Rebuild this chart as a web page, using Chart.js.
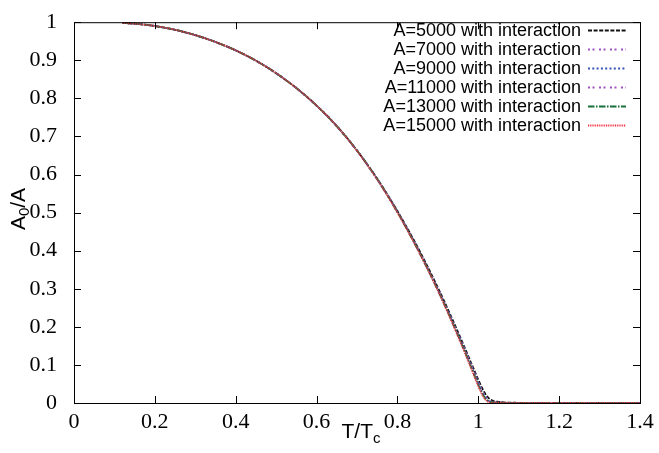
<!DOCTYPE html>
<html>
<head>
<meta charset="utf-8">
<script src="https://cdn.jsdelivr.net/npm/chart.js@4/dist/chart.umd.min.js"></script>
<style>
  html, body { margin: 0; padding: 0; background: #fff; }
  #wrap { width: 659px; height: 453px; }
</style>
</head>
<body>
<div id="wrap"><canvas id="gapChart" width="659" height="453"></canvas></div>
<script>
'use strict';

// reduced temperature T/Tc
const temps = [0.12, 0.15, 0.2, 0.25, 0.3, 0.35, 0.4, 0.45, 0.5, 0.55, 0.6, 0.65, 0.7, 0.75, 0.8,
  0.85, 0.9, 0.93, 0.96, 0.98, 1.0, 1.01, 1.02, 1.03, 1.05, 1.1, 1.2, 1.3, 1.4];

// A0/A for each system size
const ratio5000  = [0.998, 0.996, 0.990, 0.980, 0.966, 0.948, 0.926, 0.899, 0.866, 0.827, 0.781, 0.727, 0.663, 0.589, 0.504,
  0.409, 0.303, 0.234, 0.161, 0.111, 0.061, 0.038, 0.020, 0.009, 0.003, 0.0005, 0, 0, 0];
const ratio7000  = [0.998, 0.996, 0.990, 0.980, 0.966, 0.948, 0.926, 0.899, 0.866, 0.827, 0.781, 0.727, 0.663, 0.588, 0.503,
  0.407, 0.300, 0.231, 0.157, 0.107, 0.056, 0.032, 0.014, 0.005, 0.001, 0, 0, 0, 0];
const ratio9000  = [0.998, 0.996, 0.990, 0.980, 0.966, 0.948, 0.926, 0.899, 0.866, 0.827, 0.781, 0.727, 0.663, 0.588, 0.502,
  0.405, 0.298, 0.228, 0.154, 0.103, 0.051, 0.028, 0.011, 0.003, 0.001, 0, 0, 0, 0];
const ratio11000 = [0.998, 0.996, 0.990, 0.980, 0.966, 0.948, 0.926, 0.899, 0.866, 0.827, 0.781, 0.727, 0.663, 0.588, 0.502,
  0.404, 0.297, 0.227, 0.153, 0.102, 0.050, 0.027, 0.010, 0.003, 0.001, 0, 0, 0, 0];
const ratio13000 = [0.998, 0.996, 0.990, 0.980, 0.966, 0.948, 0.926, 0.899, 0.866, 0.827, 0.781, 0.727, 0.663, 0.588, 0.501,
  0.404, 0.296, 0.226, 0.152, 0.100, 0.048, 0.025, 0.009, 0.002, 0.001, 0, 0, 0, 0];
const ratio15000 = [0.998, 0.996, 0.990, 0.980, 0.966, 0.948, 0.926, 0.899, 0.866, 0.827, 0.781, 0.727, 0.662, 0.587, 0.500,
  0.403, 0.295, 0.224, 0.149, 0.097, 0.044, 0.021, 0.006, 0.001, 0.001, 0, 0, 0, 0];

const seriesLabels = ['A=5000 with interaction', 'A=7000 with interaction', 'A=9000 with interaction',
  'A=11000 with interaction', 'A=13000 with interaction', 'A=15000 with interaction'];
const seriesValues = [ratio5000, ratio7000, ratio9000, ratio11000, ratio13000, ratio15000];

const xTicks = [0, 0.2, 0.4, 0.6, 0.8, 1, 1.2, 1.4];
const yTicks = [0, 0.1, 0.2, 0.3, 0.4, 0.5, 0.6, 0.7, 0.8, 0.9, 1];

const lineColors = ['#111111', '#a052c4', '#3552b4', '#a052c4', '#17703a', '#ee3040'];
const lineDashes = [[4, 1.6], [2, 2.5, 2, 4.5], [2, 2.3], [2, 2.5, 2, 4.5], [6.5, 1.5, 1.5, 1.5], [1, 0.8]];

const sansFont  = "'Liberation Sans', Arial, sans-serif";
const serifFont = "'Liberation Serif', 'Times New Roman', serif";

// frame, inward ticks on all four sides, axis titles and key
const framePlugin = {
  id: 'frame',
  afterDraw(chart) {
    const { ctx, chartArea: a, scales } = chart;
    const tick = 7;
    ctx.save();
    ctx.strokeStyle = '#000';
    ctx.lineWidth = 1;
    ctx.strokeRect(a.left + 0.5, a.top + 0.5, a.right - a.left, a.bottom - a.top);
    ctx.beginPath();
    xTicks.forEach(v => {
      const px = Math.round(scales.x.getPixelForValue(v)) + 0.5;
      ctx.moveTo(px, a.bottom); ctx.lineTo(px, a.bottom - tick);
      ctx.moveTo(px, a.top); ctx.lineTo(px, a.top + tick);
    });
    yTicks.forEach(v => {
      const py = Math.round(scales.y.getPixelForValue(v)) + 0.5;
      ctx.moveTo(a.left, py); ctx.lineTo(a.left + tick, py);
      ctx.moveTo(a.right, py); ctx.lineTo(a.right - tick, py);
    });
    ctx.stroke();

    // axis titles with subscripts
    ctx.fillStyle = '#000';
    ctx.textBaseline = 'alphabetic';
    const big = '21px ' + sansFont, small = '15px ' + sansFont;
    const drawSub = (parts, x, y, drop) => {
      let w = 0;
      parts.forEach(p => { ctx.font = p[1] ? small : big; w += ctx.measureText(p[0]).width; });
      let cx = x - w / 2;
      parts.forEach(p => {
        ctx.font = p[1] ? small : big;
        ctx.textAlign = 'left';
        ctx.fillText(p[0], cx, p[1] ? y + drop : y);
        cx += ctx.measureText(p[0]).width;
      });
    };
    drawSub([['T/T', false], ['c', true]], 361, 438, 5);
    ctx.save();
    ctx.translate(25, 209);
    ctx.rotate(-Math.PI / 2);
    drawSub([['A', false], ['0', true], ['/A', false]], 0, 0, 4);
    ctx.restore();

    // key
    ctx.font = '18px ' + sansFont;
    ctx.textAlign = 'right';
    ctx.textBaseline = 'middle';
    chart.data.datasets.forEach((ds, i) => {
      const y = 30 + i * 19;
      ctx.fillStyle = '#000';
      ctx.fillText(ds.label, 581, y + 1);
      ctx.beginPath();
      ctx.strokeStyle = ds.borderColor;
      ctx.lineWidth = 2;
      ctx.setLineDash(ds.borderDash);
      ctx.moveTo(588, y + 0.5);
      ctx.lineTo(626, y + 0.5);
      ctx.stroke();
      ctx.setLineDash([]);
    });
    ctx.restore();
  }
};

new Chart(document.getElementById('gapChart'), {
  type: 'line',
  data: {
    datasets: seriesLabels.map((label, i) => ({
      label: label,
      data: temps.map((t, k) => ({ x: t, y: seriesValues[i][k] })),
      borderColor: lineColors[i],
      borderDash: lineDashes[i],
      borderWidth: 1.8,
      pointRadius: 0,
      fill: false,
      cubicInterpolationMode: 'monotone',
      order: seriesLabels.length - i
    }))
  },
  options: {
    responsive: false,
    animation: false,
    layout: { padding: { top: 14, right: 19, left: 0, bottom: 0 } },
    plugins: { legend: { display: false }, tooltip: { enabled: false } },
    scales: {
      x: {
        type: 'linear', min: 0, max: 1.4,
        afterBuildTicks: s => { s.ticks = xTicks.map(v => ({ value: v })); },
        afterFit: s => { s.height = 50; },
        grid: { display: false },
        border: { display: false },
        ticks: {
          color: '#000', padding: -2, maxRotation: 0,
          font: { family: serifFont, size: 22 },
          callback: v => String(Number(v.toFixed(1)))
        }
      },
      y: {
        type: 'linear', min: 0, max: 1,
        afterBuildTicks: s => { s.ticks = yTicks.map(v => ({ value: v })); },
        afterFit: s => { s.width = 74; },
        grid: { display: false },
        border: { display: false },
        ticks: {
          color: '#000', padding: 9,
          font: { family: serifFont, size: 22 },
          callback: v => String(Number(v.toFixed(1)))
        }
      }
    }
  },
  plugins: [framePlugin]
});
</script>
</body>
</html>
